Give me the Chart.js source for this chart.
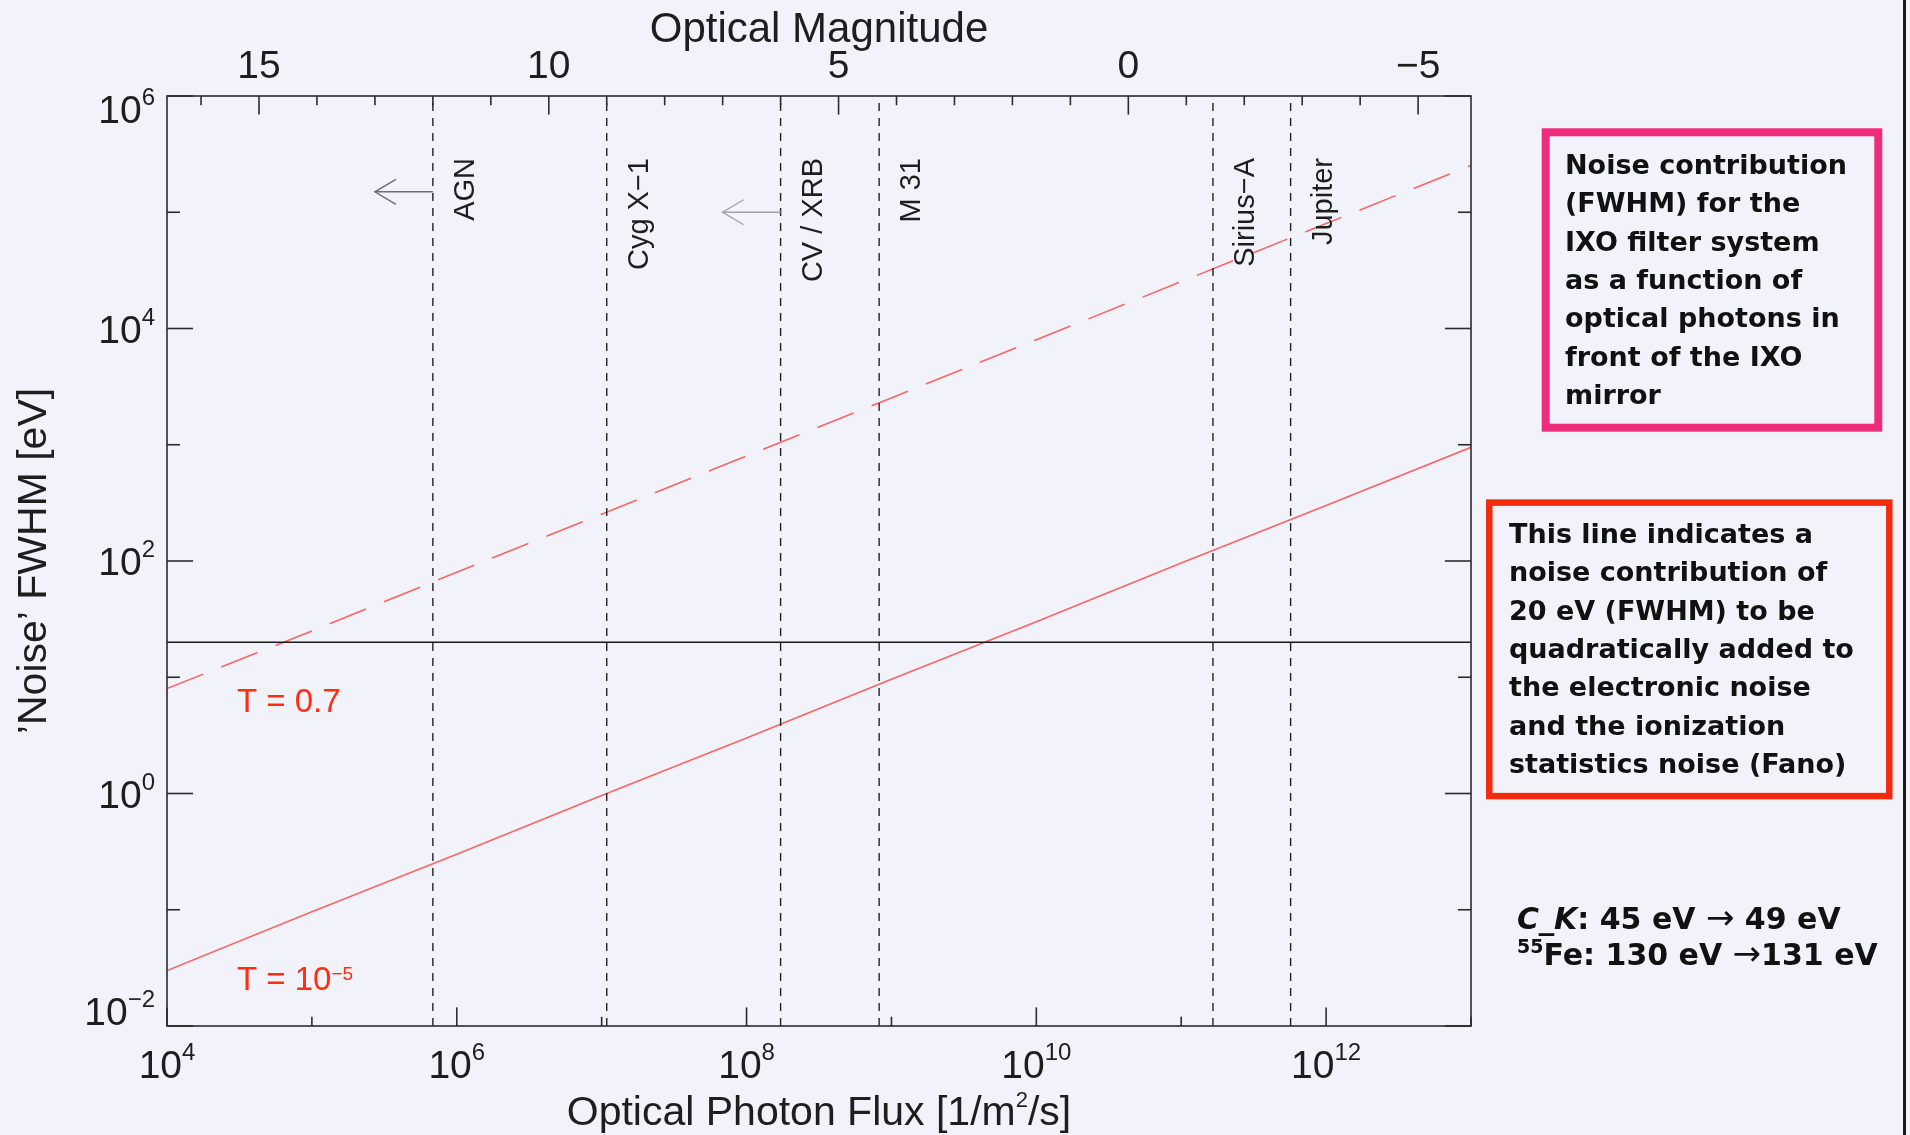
<!DOCTYPE html>
<html>
<head>
<meta charset="utf-8">
<title>IXO filter noise vs optical photon flux</title>
<script src="https://cdn.jsdelivr.net/npm/chart.js@4.4.1/dist/chart.umd.min.js"></script>
<style>
  html, body { margin: 0; padding: 0; background: #f1f2fa; }
  #wrap { width: 1910px; height: 1135px; }
</style>
</head>
<body>
<div id="wrap"><canvas id="noiseChart" width="1910" height="1135"></canvas></div>
<script>
// Photon flux grid [1/m^2/s] and FWHM noise [eV] for both filter transmissions
const fluxGrid  = [1e4, 1e5, 1e6, 1e7, 1e8, 1e9, 1e10, 1e11, 1e12, 1e13];
const noiseT07  = [8.0, 25, 80, 253, 800, 2530, 8000, 25300, 80000, 253000];
const noiseT1e5 = [0.030, 0.096, 0.30, 0.96, 3.0, 9.6, 30, 96, 300, 950];

// 20 eV reference level
const limitNoise = 20;

// Reference sources by optical magnitude
const sourceNames = ['AGN', 'Cyg X\u22121', 'CV / XRB', 'M 31', 'Sirius\u2212A', 'Jupiter'];
const sourceMags  = [12, 9, 6, 4.3, -1.46, -2.8];

// "fainter" arrows: which source, at what noise level
const arrowSources = ['AGN', 'CV / XRB'];
const arrowNoise   = [1.5e5, 1.0e5];

// Axis tick labels
const fluxTickExps  = [4, 6, 8, 10, 12];
const noiseTickExps = [-2, 0, 2, 4, 6];
const magTickLabels = [15, 10, 5, 0, -5];

// log10 of the photon flux of a 0 mag source [1/m^2/s]
const magZeroLogFlux = 10.635;
function magToFlux(m) { return Math.pow(10, magZeroLogFlux - 0.4 * m); }

const AXIS_FONT = '"Liberation Sans", Arial, Helvetica, sans-serif';
const BOX_FONT = '"DejaVu Sans", Verdana, sans-serif';
const INK = '#1e1e1e';

function toPoints(xs, ys) { return xs.map((x, i) => ({ x: x, y: ys[i] })); }

const datasets = [];
sourceMags.forEach((m, i) => {
  datasets.push({
    label: sourceNames[i],
    data: [{ x: magToFlux(m), y: 1e-2 }, { x: magToFlux(m), y: 1e6 }],
    borderColor: '#222222', borderWidth: 1.4, borderDash: [8, 7]
  });
});
datasets.push({
  label: '20 eV',
  data: [{ x: fluxGrid[0], y: limitNoise }, { x: fluxGrid[fluxGrid.length - 1], y: limitNoise }],
  borderColor: '#1a1a1a', borderWidth: 1.5
});
datasets.push({
  label: 'T = 0.7',
  data: toPoints(fluxGrid, noiseT07),
  borderColor: '#fb6464', borderWidth: 1.6, borderDash: [39, 19.4]
});
datasets.push({
  label: 'T = 1e-5',
  data: toPoints(fluxGrid, noiseT1e5),
  borderColor: '#fb6464', borderWidth: 1.6
});
datasets.forEach(d => { d.showLine = true; d.pointRadius = 0; d.fill = false; d.tension = 0; });

function line(ctx, x1, y1, x2, y2) {
  ctx.beginPath(); ctx.moveTo(x1, y1); ctx.lineTo(x2, y2); ctx.stroke();
}

// "10" with a raised exponent
function drawPower(ctx, x, y, exp, align) {
  const base = '10', sup = String(exp).replace('-', '\u2212');
  const mainFont = '39px ' + AXIS_FONT, supFont = '24px ' + AXIS_FONT;
  ctx.font = mainFont; const wb = ctx.measureText(base).width;
  ctx.font = supFont; const ws = ctx.measureText(sup).width;
  const total = wb + ws;
  const x0 = align === 'center' ? x - total / 2 : align === 'right' ? x - total : x;
  ctx.textAlign = 'left'; ctx.textBaseline = 'alphabetic';
  ctx.font = mainFont; ctx.fillText(base, x0, y);
  ctx.font = supFont; ctx.fillText(sup, x0 + wb, y - 18);
}

// a run of differently styled pieces on one baseline
function drawRun(ctx, x, y, pieces) {
  pieces.forEach(p => {
    ctx.font = p.font;
    ctx.fillText(p.text, x, y - (p.rise || 0));
    x += ctx.measureText(p.text).width;
  });
}

const decorPlugin = {
  id: 'decor',
  beforeDraw(chart) {
    const ctx = chart.ctx;
    ctx.save();
    ctx.fillStyle = '#f1f2fa';
    ctx.fillRect(0, 0, chart.width, chart.height);
    ctx.restore();
  },
  afterDatasetsDraw(chart) {
    const ctx = chart.ctx;
    const { left, right, top, bottom } = chart.chartArea;
    const xs = chart.scales.x, ys = chart.scales.y;
    const w = right - left, h = bottom - top;
    ctx.save();
    ctx.strokeStyle = '#2b2b2e';
    ctx.lineWidth = 1.6;
    ctx.strokeRect(left, top, w, h);

    // bottom flux ticks, one per decade
    for (let e = 4; e <= 13; e++) {
      const px = xs.getPixelForValue(Math.pow(10, e));
      const len = e % 2 === 0 ? 0.02 * h : 0.01 * h;
      line(ctx, px, bottom, px, bottom - len);
    }
    // left and right noise ticks
    for (let e = -2; e <= 6; e++) {
      const py = ys.getPixelForValue(Math.pow(10, e));
      const len = e % 2 === 0 ? 0.02 * w : 0.01 * w;
      line(ctx, left, py, left + len, py);
      line(ctx, right, py, right - len, py);
    }
    // top magnitude ticks, one per magnitude
    for (let m = 17; m >= -6; m--) {
      const px = xs.getPixelForValue(magToFlux(m));
      if (px < left + 1 || px > right - 1) continue;
      const len = m % 5 === 0 ? 0.02 * h : 0.01 * h;
      line(ctx, px, top, px, top + len);
    }
    ctx.restore();
  },
  afterDraw(chart) {
    const ctx = chart.ctx;
    const { left, right, top, bottom } = chart.chartArea;
    const xs = chart.scales.x, ys = chart.scales.y;
    const midX = (left + right) / 2, midY = (top + bottom) / 2;
    ctx.save();
    ctx.fillStyle = INK;

    // tick labels
    fluxTickExps.forEach(e => drawPower(ctx, xs.getPixelForValue(Math.pow(10, e)), bottom + 52, e, 'center'));
    noiseTickExps.forEach(e => {
      const py = ys.getPixelForValue(Math.pow(10, e));
      const base = Math.min(Math.max(py + 14, top + 27), bottom - 1);
      drawPower(ctx, left - 12, base, e, 'right');
    });
    ctx.font = '39px ' + AXIS_FONT;
    ctx.textAlign = 'center'; ctx.textBaseline = 'alphabetic';
    magTickLabels.forEach(m => {
      ctx.fillText(String(m).replace('-', '\u2212'), xs.getPixelForValue(magToFlux(m)), top - 18);
    });

    // axis titles
    ctx.font = '42px ' + AXIS_FONT;
    ctx.fillText('Optical Magnitude', midX, 42);

    ctx.font = '41px ' + AXIS_FONT;
    const t1 = 'Optical Photon Flux [1/m', t2 = '/s]';
    const w1 = ctx.measureText(t1).width, w3 = ctx.measureText(t2).width;
    ctx.font = '22px ' + AXIS_FONT;
    const w2 = ctx.measureText('2').width;
    ctx.textAlign = 'left';
    drawRun(ctx, midX - (w1 + w2 + w3) / 2, 1125, [
      { text: t1, font: '41px ' + AXIS_FONT },
      { text: '2', font: '22px ' + AXIS_FONT, rise: 18 },
      { text: t2, font: '41px ' + AXIS_FONT }
    ]);

    ctx.save();
    ctx.translate(46, midY);
    ctx.rotate(-Math.PI / 2);
    ctx.textAlign = 'center';
    ctx.font = '41px ' + AXIS_FONT;
    ctx.fillText('\u2019Noise\u2019 FWHM [eV]', 0, 0);
    ctx.restore();

    // source names along their flux lines
    ctx.font = '29px ' + AXIS_FONT;
    sourceMags.forEach((m, i) => {
      const px = xs.getPixelForValue(magToFlux(m));
      ctx.save();
      ctx.translate(px + 41, top + 62);
      ctx.rotate(-Math.PI / 2);
      ctx.textAlign = 'right';
      ctx.fillText(sourceNames[i], 0, 0);
      ctx.restore();
    });

    // arrows pointing to fainter sources (one magnitude long)
    const arrowColors = ['#6c6c70', '#a2a2a8'];
    arrowSources.forEach((name, i) => {
      const m = sourceMags[sourceNames.indexOf(name)];
      const x0 = xs.getPixelForValue(magToFlux(m));
      const x1 = xs.getPixelForValue(magToFlux(m + 1));
      const py = ys.getPixelForValue(arrowNoise[i]);
      ctx.strokeStyle = arrowColors[i];
      ctx.lineWidth = 1.4;
      line(ctx, x0, py, x1, py);
      ctx.beginPath();
      ctx.moveTo(x1 + 21, py - 12.5);
      ctx.lineTo(x1, py);
      ctx.lineTo(x1 + 21, py + 12.5);
      ctx.stroke();
    });

    // transmission labels
    ctx.fillStyle = '#ff2d12';
    ctx.textAlign = 'left';
    const lx = xs.getPixelForValue(3.04e4);
    drawRun(ctx, lx, ys.getPixelForValue(5.0), [{ text: 'T = 0.7', font: '33px ' + AXIS_FONT }]);
    drawRun(ctx, lx, ys.getPixelForValue(0.0204), [
      { text: 'T = 10', font: '33px ' + AXIS_FONT },
      { text: '\u22125', font: '19px ' + AXIS_FONT, rise: 10 }
    ]);

    // explanatory boxes
    ctx.lineWidth = 8;
    ctx.strokeStyle = '#ef2b7c';
    ctx.strokeRect(1545.7, 132.3, 332.6, 295.4);
    ctx.lineWidth = 6.5;
    ctx.strokeStyle = '#f42a0c';
    ctx.strokeRect(1489.3, 502.6, 400, 293.5);

    ctx.fillStyle = '#111111';
    ctx.font = 'bold 27px ' + BOX_FONT;
    const box1 = ['Noise contribution', '(FWHM) for the', 'IXO filter system',
      'as a function of', 'optical photons in', 'front of the IXO', 'mirror'];
    box1.forEach((s, i) => ctx.fillText(s, 1565, 174 + i * 38.3));
    const box2 = ['This line indicates a', 'noise contribution of', '20 eV (FWHM) to be',
      'quadratically added to', 'the electronic noise', 'and the ionization',
      'statistics noise (Fano)'];
    box2.forEach((s, i) => ctx.fillText(s, 1509, 543 + i * 38.3));

    // energy resolution notes
    const nb = 'bold 30px ' + BOX_FONT, na = '34px ' + BOX_FONT;
    drawRun(ctx, 1517, 929, [
      { text: 'C_K', font: 'italic bold 30px ' + BOX_FONT },
      { text: ': 45 eV ', font: nb },
      { text: '\u2192', font: na },
      { text: ' 49 eV', font: nb }
    ]);
    drawRun(ctx, 1517, 965, [
      { text: '55', font: 'bold 19px ' + BOX_FONT, rise: 12 },
      { text: 'Fe: 130 eV ', font: nb },
      { text: '\u2192', font: na },
      { text: '131 eV', font: nb }
    ]);

    // slide edge
    ctx.fillStyle = '#1a1a1a';
    ctx.fillRect(1903, 0, 3, chart.height);
    ctx.restore();
  }
};

new Chart(document.getElementById('noiseChart'), {
  type: 'scatter',
  data: { datasets: datasets },
  options: {
    responsive: false,
    animation: false,
    devicePixelRatio: 1,
    layout: { padding: { left: 167, right: 439, top: 96, bottom: 109 } },
    scales: {
      x: { type: 'logarithmic', min: 1e4, max: 1e13, display: false },
      y: { type: 'logarithmic', min: 1e-2, max: 1e6, display: false }
    },
    plugins: { legend: { display: false }, tooltip: { enabled: false } }
  },
  plugins: [decorPlugin]
});
</script>
</body>
</html>
